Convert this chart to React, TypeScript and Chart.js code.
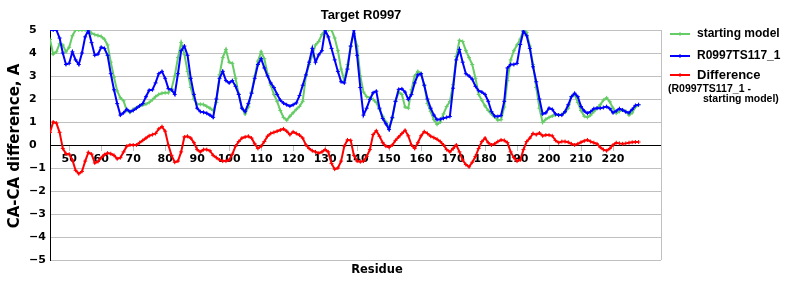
import React, { useEffect, useRef } from 'react';
import { Chart, registerables } from 'chart.js';

Chart.register(...registerables);

const chartTitle = 'Target R0997';
const xTitle = 'Residue';
const yTitle = 'CA-CA difference, A';
const seriesLabels = ['starting model', 'R0997TS117_1', 'Difference'];
const differenceNote = ['(R0997TS117_1 -', 'starting model)'];
const seriesColors = ['#66cc66', '#0000ff', '#ff0000'];

const residues = [
  44, 45, 46, 47, 48, 49, 50, 51, 52, 53,
  54, 55, 56, 57, 58, 59, 60, 61, 62, 63,
  64, 65, 66, 67, 68, 69, 70, 71, 72, 73,
  74, 75, 76, 77, 78, 79, 80, 81, 82, 83,
  84, 85, 86, 87, 88, 89, 90, 91, 92, 93,
  94, 95, 96, 97, 98, 99, 100, 101, 102, 103,
  104, 105, 106, 107, 108, 109, 110, 111, 112, 113,
  114, 115, 116, 117, 118, 119, 120, 121, 122, 123,
  124, 125, 126, 127, 128, 129, 130, 131, 132, 133,
  134, 135, 136, 137, 138, 139, 140, 141, 142, 143,
  144, 145, 146, 147, 148, 149, 150, 151, 152, 153,
  154, 155, 156, 157, 158, 159, 160, 161, 162, 163,
  164, 165, 166, 167, 168, 169, 170, 171, 172, 173,
  174, 175, 176, 177, 178, 179, 180, 181, 182, 183,
  184, 185, 186, 187, 188, 189, 190, 191, 192, 193,
  194, 195, 196, 197, 198, 199, 200, 201, 202, 203,
  204, 205, 206, 207, 208, 209, 210, 211, 212, 213,
  214, 215, 216, 217, 218, 219, 220, 221, 222, 223,
  224, 225, 226, 227, 228,
];

const startingModel = [
  4.59, 3.95, 4.05, 4.4, 4.35, 4.05, 4.25, 4.75, 5.0, 5.0,
  5.0, 5.0, 5.0, 4.86, 4.8, 4.76, 4.72, 4.6, 4.35, 3.6,
  2.95, 2.35, 2.05, 1.92, 1.5, 1.42, 1.55, 1.62, 1.7, 1.74,
  1.78, 1.85, 1.97, 2.1, 2.2, 2.25, 2.27, 2.27, 2.45, 3.0,
  3.8, 4.45, 3.95, 3.2, 2.5, 2.0, 1.77, 1.77, 1.76, 1.68,
  1.6, 1.5, 1.85, 3.05, 3.8, 4.15, 3.6, 3.55, 2.9, 2.2,
  1.6, 1.35, 1.65, 2.3, 3.0, 3.65, 4.05, 3.75, 3.1, 2.6,
  2.2, 1.9, 1.5, 1.2, 1.08, 1.25, 1.4, 1.55, 1.68, 1.9,
  3.0, 3.5, 3.9, 4.35, 4.5, 4.8, 5.0, 5.0, 5.0, 4.65,
  4.1, 3.3, 2.8, 3.5, 4.3, 4.85, 4.3, 3.0, 2.3, 2.1,
  2.05, 1.98, 1.85, 1.55, 1.25, 1.0, 0.75, 1.15, 1.9, 2.3,
  2.2, 1.65, 1.6, 2.4, 3.0, 3.2, 3.1, 2.6, 1.8, 1.45,
  1.1, 0.9, 1.0, 1.35, 1.67, 1.89, 2.62, 3.85, 4.55, 4.5,
  4.1, 3.8, 3.5, 2.9, 2.2, 1.95, 1.7, 1.5, 1.35, 1.22,
  1.08, 1.1, 1.65, 2.8, 3.7, 4.1, 4.35, 4.6, 5.0, 4.9,
  4.3, 3.5, 2.5, 1.6, 0.98, 1.12, 1.2, 1.26, 1.3, 1.3,
  1.33, 1.42, 1.6, 2.1, 2.2, 1.85, 1.5, 1.25, 1.2, 1.3,
  1.45, 1.6, 1.75, 1.95, 2.05, 1.88, 1.6, 1.38, 1.46, 1.53,
  1.46, 1.3, 1.4, 1.65, 1.75,
];

const r0997TS117 = [
  5.0, 5.0, 5.0, 4.65, 4.0, 3.5, 3.55, 4.05, 3.7, 3.5,
  4.0, 4.7, 5.0, 4.45, 3.9, 3.95, 4.25, 4.2, 3.9, 3.1,
  2.4, 1.8, 1.3, 1.4, 1.55, 1.45, 1.5, 1.6, 1.7, 1.8,
  2.1, 2.38, 2.4, 2.7, 3.1, 3.2, 2.9, 2.45, 2.4, 2.2,
  3.1, 4.1, 4.3, 3.9, 2.9, 2.2, 1.6, 1.45, 1.42, 1.38,
  1.3, 1.2, 2.0, 2.9, 3.2, 2.8, 2.7, 2.8, 2.55, 2.2,
  1.6, 1.45, 1.8, 2.25, 2.9, 3.5, 3.75, 3.35, 3.0, 2.7,
  2.5, 2.2, 1.95, 1.82, 1.75, 1.69, 1.75, 1.83, 2.15, 2.6,
  3.05, 3.6, 4.2, 3.6, 3.92, 4.1, 5.0, 4.7, 4.2, 3.7,
  3.2, 2.75, 2.7, 3.3, 4.3, 5.0, 3.9, 2.5, 1.3, 1.6,
  1.98, 2.27, 2.34, 1.6, 1.15, 0.92, 0.67, 1.2, 1.9, 2.42,
  2.44, 2.3, 1.98, 2.19, 2.7, 3.05, 3.1, 2.6, 2.0, 1.6,
  1.3, 1.1, 1.12, 1.16, 1.2, 1.24, 2.47, 3.7, 4.15, 3.6,
  3.1, 3.0, 2.86, 2.55, 2.36, 2.3, 2.2, 1.9, 1.45, 1.26,
  1.24, 1.28, 1.9, 3.35, 3.5, 3.5, 3.55, 4.37, 4.95, 4.75,
  4.2, 3.4, 2.75, 2.0, 1.35, 1.4, 1.6, 1.55, 1.35, 1.3,
  1.3, 1.45, 1.75, 2.1, 2.25, 2.1, 1.67, 1.48, 1.38, 1.45,
  1.58, 1.6, 1.6, 1.63, 1.67, 1.58, 1.4, 1.48, 1.58, 1.52,
  1.44, 1.4, 1.55, 1.72, 1.75,
];

const difference = [
  0.55, 1.0, 0.95, 0.55, -0.15, -0.38, -0.4, -0.65, -1.1, -1.25,
  -1.15, -0.7, -0.32, -0.4, -0.78, -0.72, -0.55, -0.42, -0.35, -0.38,
  -0.45, -0.6, -0.55, -0.3, -0.05, 0, 0, 0, 0.1, 0.2,
  0.3, 0.4, 0.45, 0.5, 0.7, 0.8, 0.6, 0.0, -0.45, -0.75,
  -0.7, -0.3, 0.35, 0.38, 0.3, 0.1, -0.2, -0.3, -0.2, -0.2,
  -0.25, -0.45, -0.55, -0.65, -0.7, -0.7, -0.65, -0.4, -0.05, 0.15,
  0.3, 0.35, 0.38, 0.3, 0.05, -0.15, -0.05, 0.15, 0.38, 0.5,
  0.55, 0.6, 0.65, 0.7, 0.6, 0.45, 0.57, 0.5, 0.43, 0.3,
  0.0, -0.15, -0.25, -0.3, -0.36, -0.3, -0.2, -0.3, -0.8, -1.05,
  -1.0, -0.7, -0.05, 0.22, 0.2, -0.45, -0.7, -0.73, -0.7, -0.5,
  -0.2, 0.45, 0.62, 0.38, 0.1, -0.05, -0.1, 0, 0.2, 0.35,
  0.5, 0.64, 0.4, 0.0, -0.15, 0.1, 0.4, 0.58, 0.5, 0.38,
  0.32, 0.25, 0.15, 0.0, -0.2, -0.3, -0.15, 0.0, -0.3, -0.65,
  -0.85, -0.95, -0.75, -0.5, -0.15, 0.15, 0.3, 0.1, 0.0, 0.05,
  0.15, 0.22, 0.2, 0.1, -0.3, -0.55, -0.7, -0.65, -0.2, 0.15,
  0.3, 0.5, 0.45, 0.52, 0.4, 0.43, 0.43, 0.4, 0.2, 0.1,
  0.15, 0.15, 0.12, 0.05, 0.0, 0.05, 0.12, 0.18, 0.22, 0.15,
  0.1, 0.05, -0.1, -0.2, -0.25, -0.15, 0.0, 0.1, 0.07, 0.05,
  0.07, 0.1, 0.12, 0.13, 0.13,
];

const xTickValues = [50, 60, 70, 80, 90, 100, 110, 120, 130, 140, 150, 160, 170, 180, 190, 200, 210, 220];
const xMin = 44;
const xMax = 235;
const yMin = -5;
const yMax = 5;

const TICK_FONT = { family: '"DejaVu Sans", Verdana, sans-serif', size: 11, weight: 'bold' as const };
const GRID_GRAY = '#c0c0c0';

const decorations = {
  id: 'decorations',
  afterDraw(chart: any) {
    const { ctx, chartArea } = chart;
    ctx.save();
    // right frame line
    ctx.strokeStyle = GRID_GRAY;
    ctx.lineWidth = 1;
    ctx.beginPath();
    ctx.moveTo(chartArea.right + 0.5, chartArea.top);
    ctx.lineTo(chartArea.right + 0.5, chartArea.bottom);
    ctx.stroke();

    ctx.fillStyle = '#000';
    // chart title
    ctx.font = 'bold 13px "Liberation Sans", Arial, sans-serif';
    ctx.textAlign = 'center';
    ctx.textBaseline = 'middle';
    ctx.fillText(chartTitle, 361, 15);

    // x title
    ctx.font = 'bold 11.5px "DejaVu Sans", Verdana, sans-serif';
    ctx.fillText(xTitle, 377, 270);

    // y title
    ctx.save();
    ctx.translate(15, 146);
    ctx.rotate(-Math.PI / 2);
    ctx.font = 'bold 15px "DejaVu Sans", Verdana, sans-serif';
    ctx.fillText(yTitle, 0, 0);
    ctx.restore();

    // legend
    const rows = [34, 56, 75];
    const sizes = [12, 12, 13];
    chart.data.datasets.forEach((ds: any, i: number) => {
      const y = rows[i];
      ctx.strokeStyle = ds.borderColor;
      ctx.lineWidth = 2;
      ctx.beginPath();
      ctx.moveTo(670, y);
      ctx.lineTo(690, y);
      ctx.stroke();
      ctx.lineWidth = 1;
      ctx.beginPath();
      ctx.moveTo(680, y - 2);
      ctx.lineTo(680, y + 2);
      ctx.stroke();
      ctx.fillStyle = '#000';
      ctx.textAlign = 'left';
      ctx.textBaseline = 'middle';
      ctx.font = `bold ${sizes[i]}px "Liberation Sans", Arial, sans-serif`;
      ctx.fillText(ds.label, 697, y);
    });
    ctx.font = 'bold 10.5px "Liberation Sans", Arial, sans-serif';
    ctx.fillText(differenceNote[0], 668, 89);
    ctx.fillText(differenceNote[1], 703, 99);
    ctx.restore();
  },
};

export default function App() {
  const canvasRef = useRef<HTMLCanvasElement | null>(null);

  useEffect(() => {
    const canvas = canvasRef.current;
    if (!canvas) return;
    const series = [startingModel, r0997TS117, difference];
    const orders = [3, 2, 1];
    const chart = new Chart(canvas, {
      type: 'line',
      data: {
        datasets: series.map((vals, i) => ({
          label: seriesLabels[i],
          data: residues.map((r, j) => ({ x: r, y: vals[j] })),
          borderColor: seriesColors[i],
          backgroundColor: seriesColors[i],
          borderWidth: 2,
          pointStyle: 'cross',
          pointRadius: 2,
          pointBorderWidth: 1,
          pointHoverRadius: 2,
          tension: 0,
          fill: false,
          order: orders[i],
        })),
      },
      options: {
        responsive: false,
        animation: false,
        events: [],
        layout: { padding: { left: 29, top: 30, right: 139, bottom: 40 } },
        plugins: {
          legend: { display: false },
          tooltip: { enabled: false },
          title: { display: false },
        },
        scales: {
          x: {
            type: 'linear',
            position: { y: 0 } as any,
            min: xMin,
            max: xMax,
            afterBuildTicks: (scale: any) => {
              scale.ticks = xTickValues.map((v) => ({ value: v }));
            },
            afterFit: (scale: any) => {
              scale.height = 0;
            },
            ticks: {
              font: TICK_FONT,
              color: '#000',
              padding: 3,
              maxRotation: 0,
              autoSkip: false,
            },
            grid: {
              drawOnChartArea: false,
              drawTicks: true,
              tickLength: 5,
              color: GRID_GRAY,
            },
            border: { display: true, color: '#000', width: 1 },
          },
          y: {
            type: 'linear',
            min: yMin,
            max: yMax,
            afterFit: (scale: any) => {
              scale.width = 21;
            },
            ticks: {
              stepSize: 1,
              font: TICK_FONT,
              color: '#000',
              padding: 0,
              crossAlign: 'far',
              callback: (v: any) => (Number(v) < 0 ? '\u2212' + Math.abs(Number(v)) : String(v)),
            },
            grid: {
              drawTicks: false,
              color: (c: any) => (c.tick && c.tick.value === 0 ? '#000' : GRID_GRAY),
            },
            border: { display: true, color: '#000', width: 1 },
          },
        },
      },
      plugins: [decorations],
    } as any);
    return () => chart.destroy();
  }, []);

  return (
    <div style={{ position: 'absolute', left: 0, top: 0, width: 800, height: 300, background: '#fff' }}>
      <canvas ref={canvasRef} width={800} height={300} style={{ display: 'block' }} />
    </div>
  );
}
